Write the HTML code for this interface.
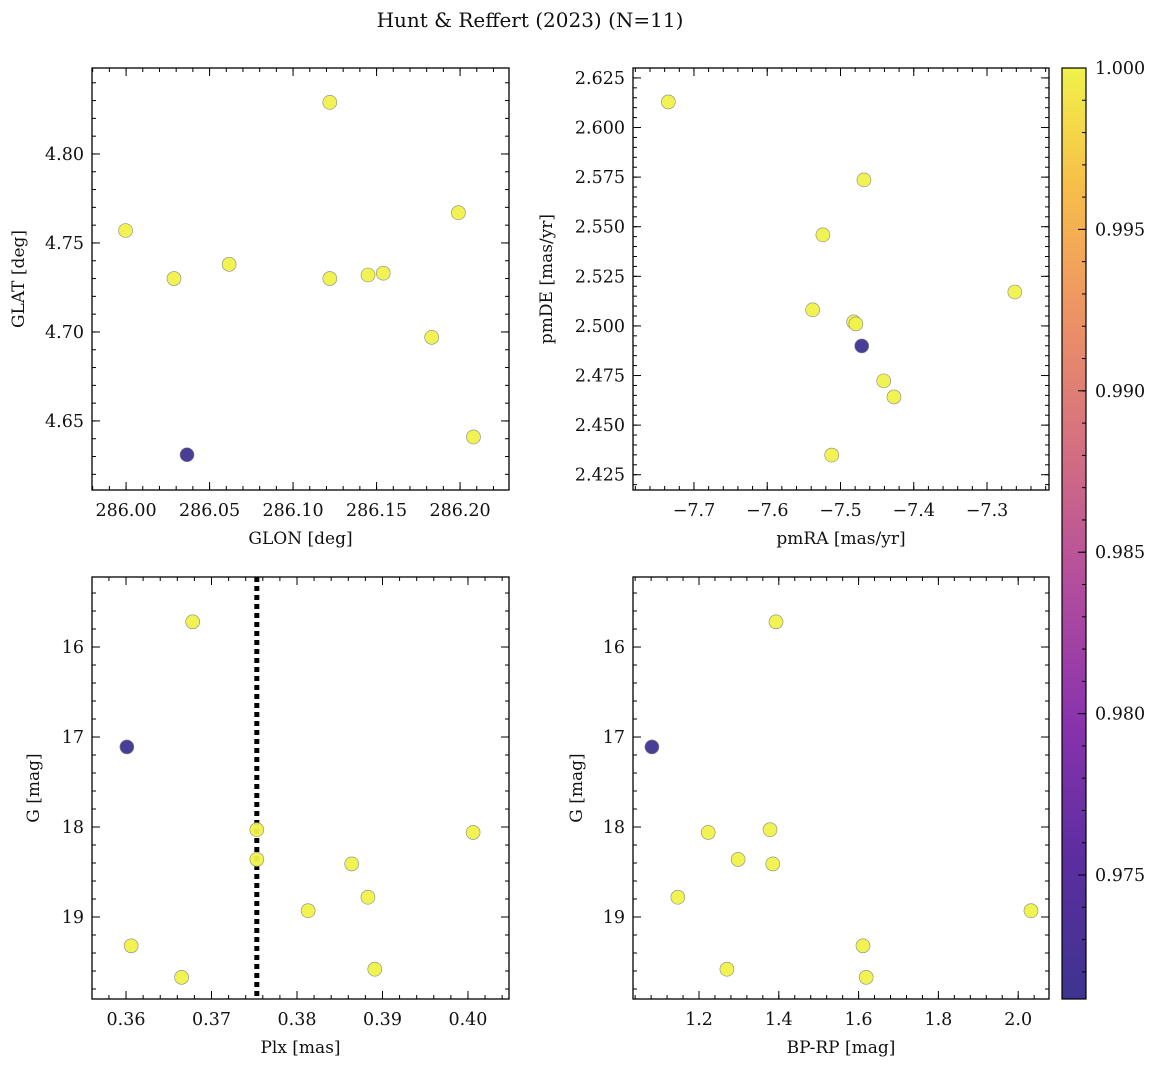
<!DOCTYPE html>
<html><head><meta charset="utf-8"><style>
body{margin:0;background:#fff}
svg text{font-family:"DejaVu Serif","Liberation Serif",serif;fill:#111}
</style></head><body>
<svg id="fig" width="1161" height="1067" xmlns="http://www.w3.org/2000/svg">
<defs><linearGradient id="plasma" x1="0" y1="1" x2="0" y2="0">
<stop offset="0" stop-color="#3e3490"/><stop offset="0.15" stop-color="#5b2ea0"/><stop offset="0.3" stop-color="#8a33ad"/><stop offset="0.45" stop-color="#b44e9d"/><stop offset="0.6" stop-color="#d6717f"/><stop offset="0.75" stop-color="#ef9762"/><stop offset="0.88" stop-color="#f7c148"/><stop offset="1" stop-color="#f0f24a"/>
</linearGradient></defs>
<text x="530" y="27" font-size="20" text-anchor="middle">Hunt &amp; Reffert (2023) (N=11)</text>
</svg>
<script>
const glon=[285.9997,286.0287,286.0365,286.0617,286.122,286.122,286.1449,286.154,286.183,286.199,286.208];
const glat=[4.757,4.730,4.631,4.738,4.829,4.730,4.732,4.733,4.697,4.767,4.641];
const pmra=[-7.735,-7.468,-7.471,-7.524,-7.262,-7.538,-7.482,-7.479,-7.441,-7.427,-7.512];
const pmde=[2.6129,2.5736,2.4899,2.5459,2.5171,2.5081,2.5020,2.5010,2.4723,2.4642,2.4349];
const plx=[0.3678,0.3753,0.3601,0.4006,0.3753,0.3864,0.3883,0.3813,0.3891,0.3606,0.3665];
const gmag=[15.72,18.03,17.11,18.06,18.36,18.41,18.78,18.93,19.58,19.32,19.67];
const bprp=[1.393,1.378,1.082,1.223,1.298,1.385,1.147,2.032,1.270,1.611,1.619];
const prob=[1,1,0.9712,1,1,1,1,1,1,1,1];
const plxRef=0.3753;
const cbTicks=[0.975,0.980,0.985,0.990,0.995,1.000];

const NS="http://www.w3.org/2000/svg",svg=document.getElementById('fig');
function el(t,a,p){const e=document.createElementNS(NS,t);for(const k in a)e.setAttribute(k,a[k]);(p||svg).appendChild(e);return e;}
function lin(d0,d1,r0,r1){return v=>r0+(v-d0)*(r1-r0)/(d1-d0);}
function col(p){return p>0.99?'#f0f24a':'#3e3490';}
function panel(name,box,xd,yd,xmaj,xmin,ymaj,ymin,xfmt,yfmt,xl,yl,xs,ys,yoff){
 const [L,T,R,B]=box;const g=el('g',{});
 
 const X=lin(xd[0],xd[1],L,R),Y=lin(yd[0],yd[1],B,T);
 const tk=(v0,v1,st)=>{const out=[];for(let v=Math.ceil(v0/st-1e-6)*st;v<=v1+1e-9;v+=st)out.push(+v.toFixed(6));return out;};
 const xlo=Math.min(...xd),xhi=Math.max(...xd),ylo=Math.min(...yd),yhi=Math.max(...yd);
 tk(xlo,xhi,xmin).forEach(v=>{const x=X(v);el('line',{x1:x,x2:x,y1:B,y2:B-4,stroke:'#000'},g);el('line',{x1:x,x2:x,y1:T,y2:T+4,stroke:'#000'},g);});
 tk(ylo,yhi,ymin).forEach(v=>{const y=Y(v);el('line',{x1:L,x2:L+4,y1:y,y2:y,stroke:'#000'},g);el('line',{x1:R,x2:R-4,y1:y,y2:y,stroke:'#000'},g);});
 tk(xlo,xhi,xmaj).forEach(v=>{const x=X(v);el('line',{x1:x,x2:x,y1:B,y2:B-8,stroke:'#000'},g);el('line',{x1:x,x2:x,y1:T,y2:T+8,stroke:'#000'},g);
  const t=el('text',{x:x,y:B+26,'font-size':17.5,'text-anchor':'middle'},g);t.textContent=xfmt(v);});
 tk(ylo,yhi,ymaj).forEach(v=>{const y=Y(v);el('line',{x1:L,x2:L+8,y1:y,y2:y,stroke:'#000'},g);el('line',{x1:R,x2:R-8,y1:y,y2:y,stroke:'#000'},g);
  const t=el('text',{x:L-8,y:y+6,'font-size':17.5,'text-anchor':'end'},g);t.textContent=yfmt(v);});
 const xt=el('text',{x:(L+R)/2,y:B+54,'font-size':17,'text-anchor':'middle'},g);xt.textContent=xl;
 
 const yx=L-yoff,yt=el('text',{x:yx,y:(T+B)/2,'font-size':17,'text-anchor':'middle',transform:`rotate(-90 ${yx} ${(T+B)/2})`},g);yt.textContent=yl;
 
 return {g,X,Y,L,T,R,B,draw(){
  const idx=xs.map((_,i)=>i).sort((a,b)=>prob[b]-prob[a]);
  idx.forEach(i=>{const c=el('circle',{cx:X(xs[i]),cy:Y(ys[i]),r:7,fill:col(prob[i]),'fill-opacity':0.95,stroke:'#888','stroke-width':0.6},g);
   });
  el('rect',{x:L,y:T,width:R-L,height:B-T,fill:'none',stroke:'#000','stroke-width':1.3},g);}};
}
const f2=v=>v.toFixed(2),f0=v=>v.toFixed(0),f1=v=>v.toFixed(1),fm=v=>(v<0?'\u2212':'')+Math.abs(v).toFixed(1),f3=v=>v.toFixed(3);
const p1=panel('panel-1-glon-glat',[92,68,509,490],[285.9796,286.2293],[4.6112,4.8483],0.05,0.01,0.05,0.01,f2,f2,'GLON [deg]','GLAT [deg]',glon,glat,68);p1.draw();
const p2=panel('panel-2-pm',[633,68,1049,490],[-7.7832,-7.2154],[2.4173,2.6300],0.1,0.02,0.025,0.005,fm,f3,'pmRA [mas/yr]','pmDE [mas/yr]',pmra,pmde,81);p2.draw();
const p3=panel('panel-3-plx-g',[92,577,509,999],[0.35602,0.40480],[19.911,15.222],0.01,0.002,1,0.2,f2,f0,'Plx [mas]','G [mag]',plx,gmag,53);
const dl=el('line',{x1:p3.X(plxRef),x2:p3.X(plxRef),y1:577,y2:999,stroke:'#000','stroke-width':5,'stroke-dasharray':'5 4'},p3.g);

p3.draw();
const p4=panel('panel-4-cmd',[633,577,1049,999],[1.0346,2.0772],[19.911,15.222],0.2,0.04,1,0.2,f1,f0,'BP-RP [mag]','G [mag]',bprp,gmag,51);p4.draw();
const cb=el('g',{});
el('rect',{x:1062,y:68,width:24,height:931,fill:'url(#plasma)',stroke:'#000','stroke-width':1.2},cb);
const CY=lin(0.97116,1.0,999,68);
for(let v=0.972;v<=1.00001;v+=0.001){el('line',{x1:1086,x2:1082,y1:CY(v),y2:CY(v),stroke:'#000'},cb);}
cbTicks.forEach(v=>{const y=CY(v);el('line',{x1:1086,x2:1078,y1:y,y2:y,stroke:'#000'},cb);
 const t=el('text',{x:1095,y:y+6,'font-size':17.5},cb);t.textContent=v.toFixed(3);});
</script>
</body></html>
